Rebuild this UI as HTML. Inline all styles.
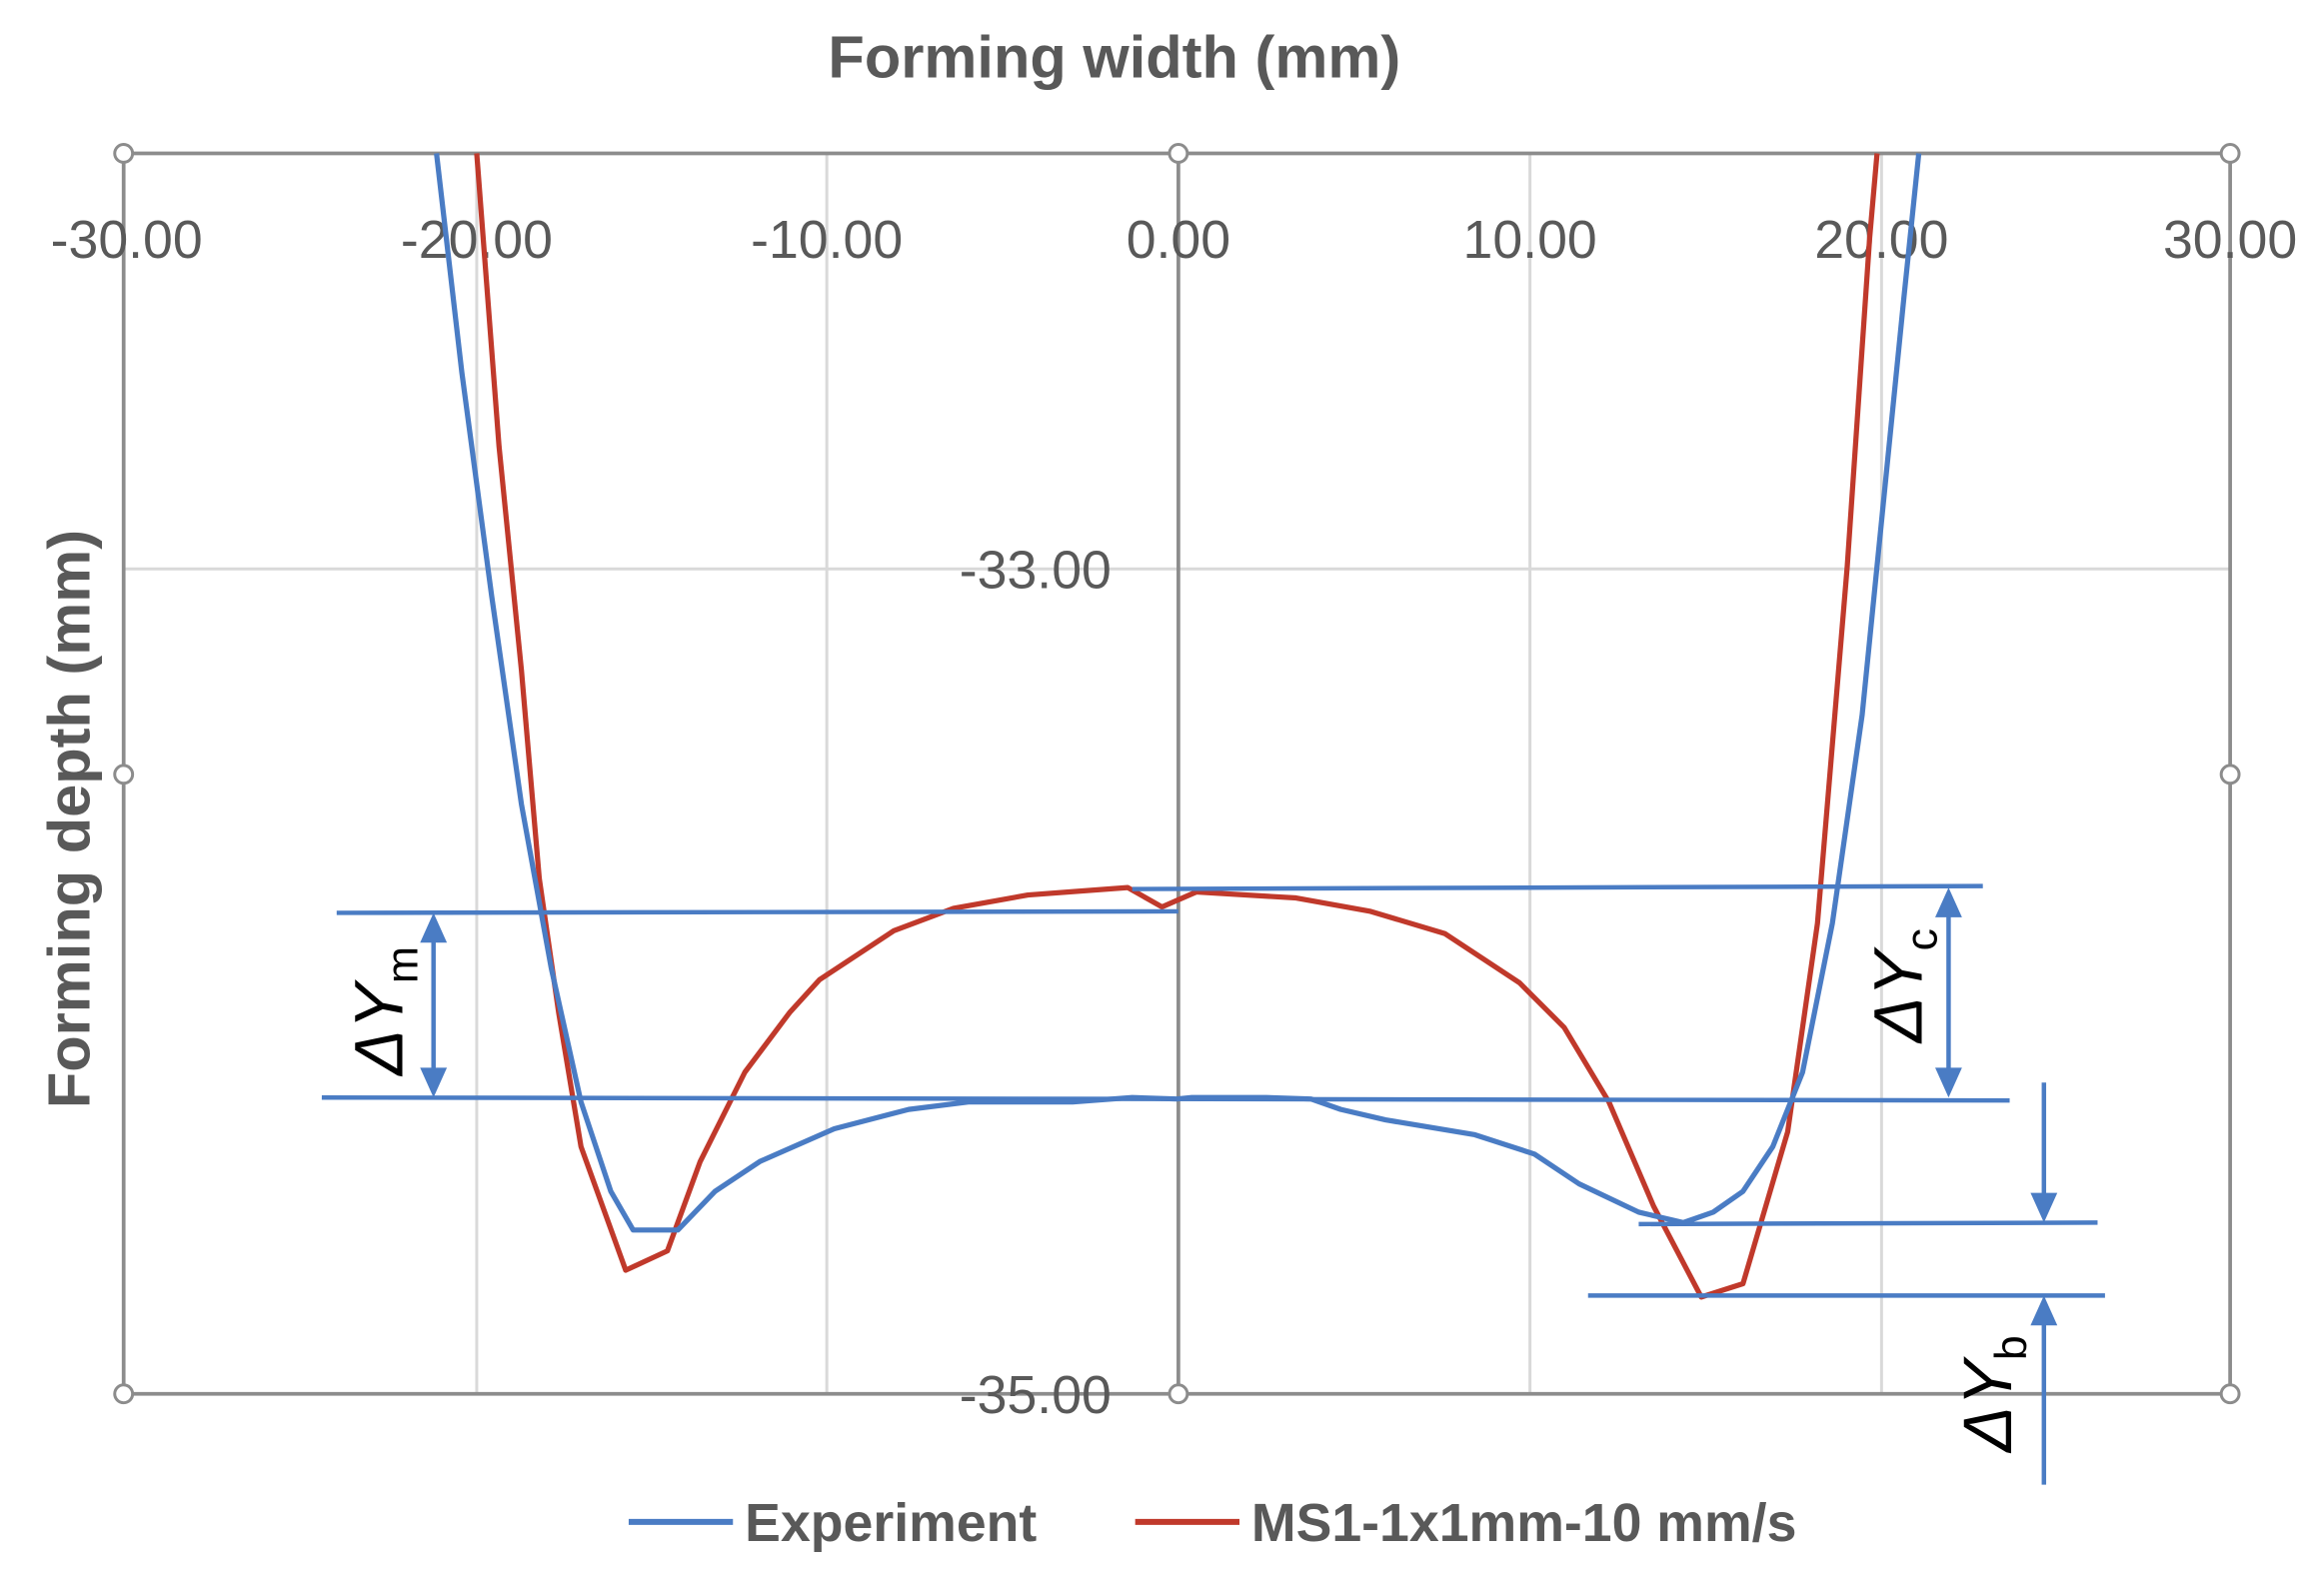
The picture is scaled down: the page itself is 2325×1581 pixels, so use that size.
<!DOCTYPE html>
<html><head><meta charset="utf-8"><style>html,body{margin:0;padding:0;background:#fff;}svg{display:block}</style></head>
<body>
<svg width="2325" height="1581" viewBox="0 0 1560 1061" preserveAspectRatio="none" xmlns="http://www.w3.org/2000/svg" font-family="Liberation Sans, sans-serif">
<rect width="1560" height="1061" fill="#fff"/>
<g stroke="#d9d9d9" stroke-width="2">
<line x1="320" y1="103" x2="320" y2="936"/><line x1="555" y1="103" x2="555" y2="936"/>
<line x1="1027" y1="103" x2="1027" y2="936"/><line x1="1263" y1="103" x2="1263" y2="936"/>
<line x1="83" y1="382" x2="1497" y2="382"/>
</g>
<g stroke="#8c8c8c" stroke-width="2.5" fill="none">
<rect x="83" y="103" width="1414" height="833"/>
<line x1="791" y1="103" x2="791" y2="936"/>
</g>
<g fill="#595959" font-size="36" text-anchor="middle">
<text x="85" y="173">-30.00</text><text x="320" y="173">-20.00</text><text x="555" y="173">-10.00</text>
<text x="791" y="173">0.00</text><text x="1027" y="173">10.00</text><text x="1263" y="173">20.00</text><text x="1497" y="173">30.00</text>
<text x="695" y="395">-33.00</text><text x="695" y="949">-35.00</text>
</g>
<text x="748" y="52" fill="#595959" font-size="40" font-weight="bold" text-anchor="middle">Forming width (mm)</text>
<text transform="translate(60,550) rotate(-90)" fill="#595959" font-size="40" font-weight="bold" text-anchor="middle">Forming depth (mm)</text>
<polyline fill="none" stroke="#c0392b" stroke-width="3.5" stroke-linejoin="round" points="320,103 335,300 350,450 362,590 375,680 390,770 420,853 448,840 470,780 500,720 530,680 550,658 600,625 640,610 690,601 757,596 780,609 803,599 870,603 920,612 970,627 1020,660 1050,690 1080,740 1110,810 1142,871 1170,862 1200,760 1220,620 1240,380 1255,160 1260,103"/>
<polyline fill="none" stroke="#4a7cc4" stroke-width="3.5" stroke-linejoin="round" points="293,103 310,250 330,400 350,540 370,650 390,740 410,800 425,826 455,826 480,800 510,780 560,758 610,745 650,740 720,740 760,737 790,738 800,737 850,737 880,738 900,745 930,752 990,762 1030,775 1060,795 1100,814 1130,821 1150,814 1170,800 1190,770 1210,720 1230,620 1250,480 1265,330 1278,200 1288,103"/>
<g fill="#fff" stroke="#8c8c8c" stroke-width="2">
<circle cx="83" cy="103" r="6"/><circle cx="791" cy="103" r="6"/><circle cx="1497" cy="103" r="6"/>
<circle cx="83" cy="520" r="6"/><circle cx="1497" cy="520" r="6"/>
<circle cx="83" cy="936" r="6"/><circle cx="791" cy="936" r="6"/><circle cx="1497" cy="936" r="6"/>
</g>
<g stroke="#4a7cc4" stroke-width="3" fill="none">
<line x1="226" y1="613" x2="791" y2="612"/>
<line x1="216" y1="737" x2="1349" y2="739"/>
<line x1="760" y1="597" x2="1331" y2="595"/>
<line x1="1100" y1="822" x2="1408" y2="821"/>
<line x1="1066" y1="870" x2="1413" y2="870"/>
<line x1="291" y1="625" x2="291" y2="725"/>
<line x1="1308" y1="608" x2="1308" y2="725"/>
<line x1="1372" y1="727" x2="1372" y2="808"/>
<line x1="1372" y1="884" x2="1372" y2="997"/>
</g>
<g fill="#4a7cc4">
<polygon points="291,613 282,633 300,633"/><polygon points="291,737 282,717 300,717"/>
<polygon points="1308,596 1299,616 1317,616"/><polygon points="1308,737 1299,717 1317,717"/>
<polygon points="1372,821 1363,801 1381,801"/><polygon points="1372,870 1363,890 1381,890"/>
</g>
<g fill="#000" font-size="46" font-style="italic">
<text transform="translate(270,722) rotate(-90)">ΔY<tspan font-size="30" font-style="normal" dy="10">m</tspan></text>
<text transform="translate(1290,700) rotate(-90)">ΔY<tspan font-size="30" font-style="normal" dy="10">c</tspan></text>
<text transform="translate(1350,975) rotate(-90)">ΔY<tspan font-size="30" font-style="normal" dy="10">b</tspan></text>
</g>
<line x1="422" y1="1022" x2="492" y2="1022" stroke="#4a7cc4" stroke-width="4"/>
<text x="500" y="1035" fill="#595959" font-size="36" font-weight="bold">Experiment</text>
<line x1="762" y1="1022" x2="832" y2="1022" stroke="#c0392b" stroke-width="4"/>
<text x="840" y="1035" fill="#595959" font-size="36" font-weight="bold">MS1-1x1mm-10 mm/s</text>
</svg>
</body></html>
